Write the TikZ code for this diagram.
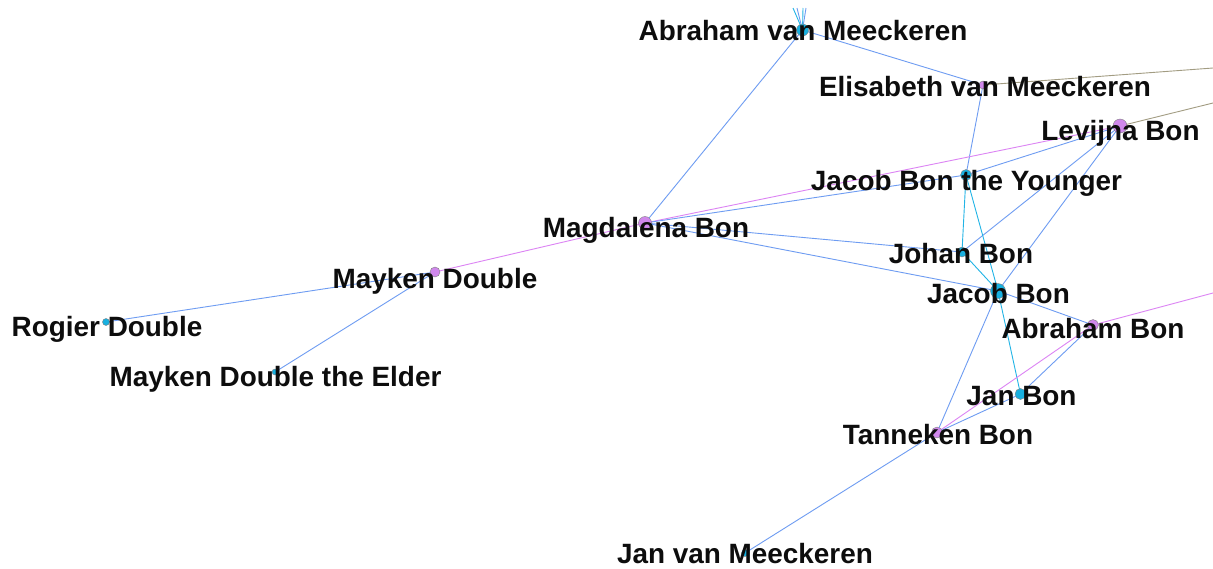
\documentclass[tikz,border=0pt]{standalone}
\usepackage{fontspec}
\setmainfont{Liberation Sans}
\definecolor{eblue}{HTML}{6E9CF2}
\definecolor{ecyan}{HTML}{22B4E6}
\definecolor{emag}{HTML}{DC84F4}
\definecolor{eolive}{HTML}{A29C82}
\definecolor{ncyan}{HTML}{18B0E0}
\definecolor{nmag}{HTML}{D088EC}
\tikzset{
  lab/.style={anchor=base,inner sep=0pt,font=\fontsize{27.9}{32}\selectfont\bfseries,text=black!95},
  eb/.style={draw=eblue,line width=0.9pt},
  ec/.style={draw=ecyan,line width=0.9pt},
  em/.style={draw=emag,line width=0.9pt},
  eo/.style={draw=eolive,line width=0.9pt},
  disc/.style={draw=black!50,line width=0.4pt}
}
\begin{document}
\begin{tikzpicture}[x=1pt,y=-1pt]
\useasboundingbox[fill=white] (0,0) rectangle (1213,568);
% off-canvas ends
\coordinate (t1) at (793,8);
\coordinate (t2) at (797,8);
\coordinate (t3) at (803,8);
\coordinate (t4) at (806,8);
\coordinate (r1) at (1213,68);
\coordinate (r2) at (1213,103);
\coordinate (r3) at (1213,293);
% node centres
\coordinate (avm) at (802.5,30);
\coordinate (evm) at (983,85);
\coordinate (lev) at (1120,126);
\coordinate (jby) at (966,175);
\coordinate (mag) at (645,223);
\coordinate (joh) at (962,252);
\coordinate (jb) at (998,291);
\coordinate (ab) at (1093,325);
\coordinate (janb) at (1020.5,394);
\coordinate (tan) at (937,432.5);
\coordinate (jvm) at (745,553);
\coordinate (md) at (435,272);
\coordinate (rd) at (106,322);
\coordinate (mde) at (275,372);
% edges
\path[ec] (avm) -- (t1);
\path[eb] (avm) -- (t2);
\path[ec] (avm) -- (t3);
\path[eb] (avm) -- (t4);
\path[eo] (evm) -- (r1);
\path[eo] (lev) -- (r2);
\path[em] (ab) -- (r3);
\path[eb] (avm) -- (mag);
\path[eb] (avm) -- (evm);
\path[eb] (evm) -- (jby);
\path[em] (lev) -- (mag);
\path[eb] (lev) -- (jby);
\path[eb] (lev) -- (joh);
\path[eb] (lev) -- (jb);
\path[eb] (mag) -- (jby);
\path[eb] (mag) -- (joh);
\path[eb] (mag) -- (jb);
\path[ec] (jby) -- (joh);
\path[ec] (jby) -- (jb);
\path[ec] (joh) -- (jb);
\path[ec] (jb) -- (janb);
\path[eb] (jb) -- (ab);
\path[eb] (jb) -- (tan);
\path[em] (ab) -- (tan);
\path[eb] (ab) -- (janb);
\path[eb] (janb) -- (tan);
\path[eb] (tan) -- (jvm);
\path[em] (mag) -- (md);
\path[eb] (md) -- (rd);
\path[eb] (md) -- (mde);
% node discs
\foreach \n/\s/\c in {avm/12/ncyan,evm/8/nmag,lev/14/nmag,jby/11/ncyan,mag/13/nmag,joh/10/ncyan,jb/15/ncyan,ab/11/nmag,janb/11/ncyan,tan/11/nmag,jvm/7/ncyan,md/10/nmag,rd/7/ncyan,mde/6/ncyan}
  \path[disc,fill=\c] (\n) circle[radius=\s/2];
% labels
\node[lab] (lavm) at (803,40.5) {Abraham van Meeckeren};
\node[lab] (levm) at (985,96) {Elisabeth van Meeckeren};
\node[lab] (llev) at (1120.5,140.7) {Levijna Bon};
\node[lab] (ljby) at (966.5,190.5) {Jacob Bon the Younger};
\node[lab] (lmag) at (646,237) {Magdalena Bon};
\node[lab] (ljoh) at (961,263) {Johan Bon};
\node[lab] (ljb) at (998.5,303) {Jacob Bon};
\node[lab] (labn) at (1093,338) {Abraham Bon};
\node[lab] (ljanb) at (1021.5,405) {Jan Bon};
\node[lab] (ltan) at (938,444) {Tanneken Bon};
\node[lab] (ljvm) at (745,563) {Jan van Meeckeren};
\node[lab] (lmd) at (435,288) {Mayken Double};
\node[lab] (lrd) at (107,336) {Rogier Double};
\node[lab] (lmde) at (275.5,386) {Mayken Double the Elder};
\end{tikzpicture}
\end{document}
